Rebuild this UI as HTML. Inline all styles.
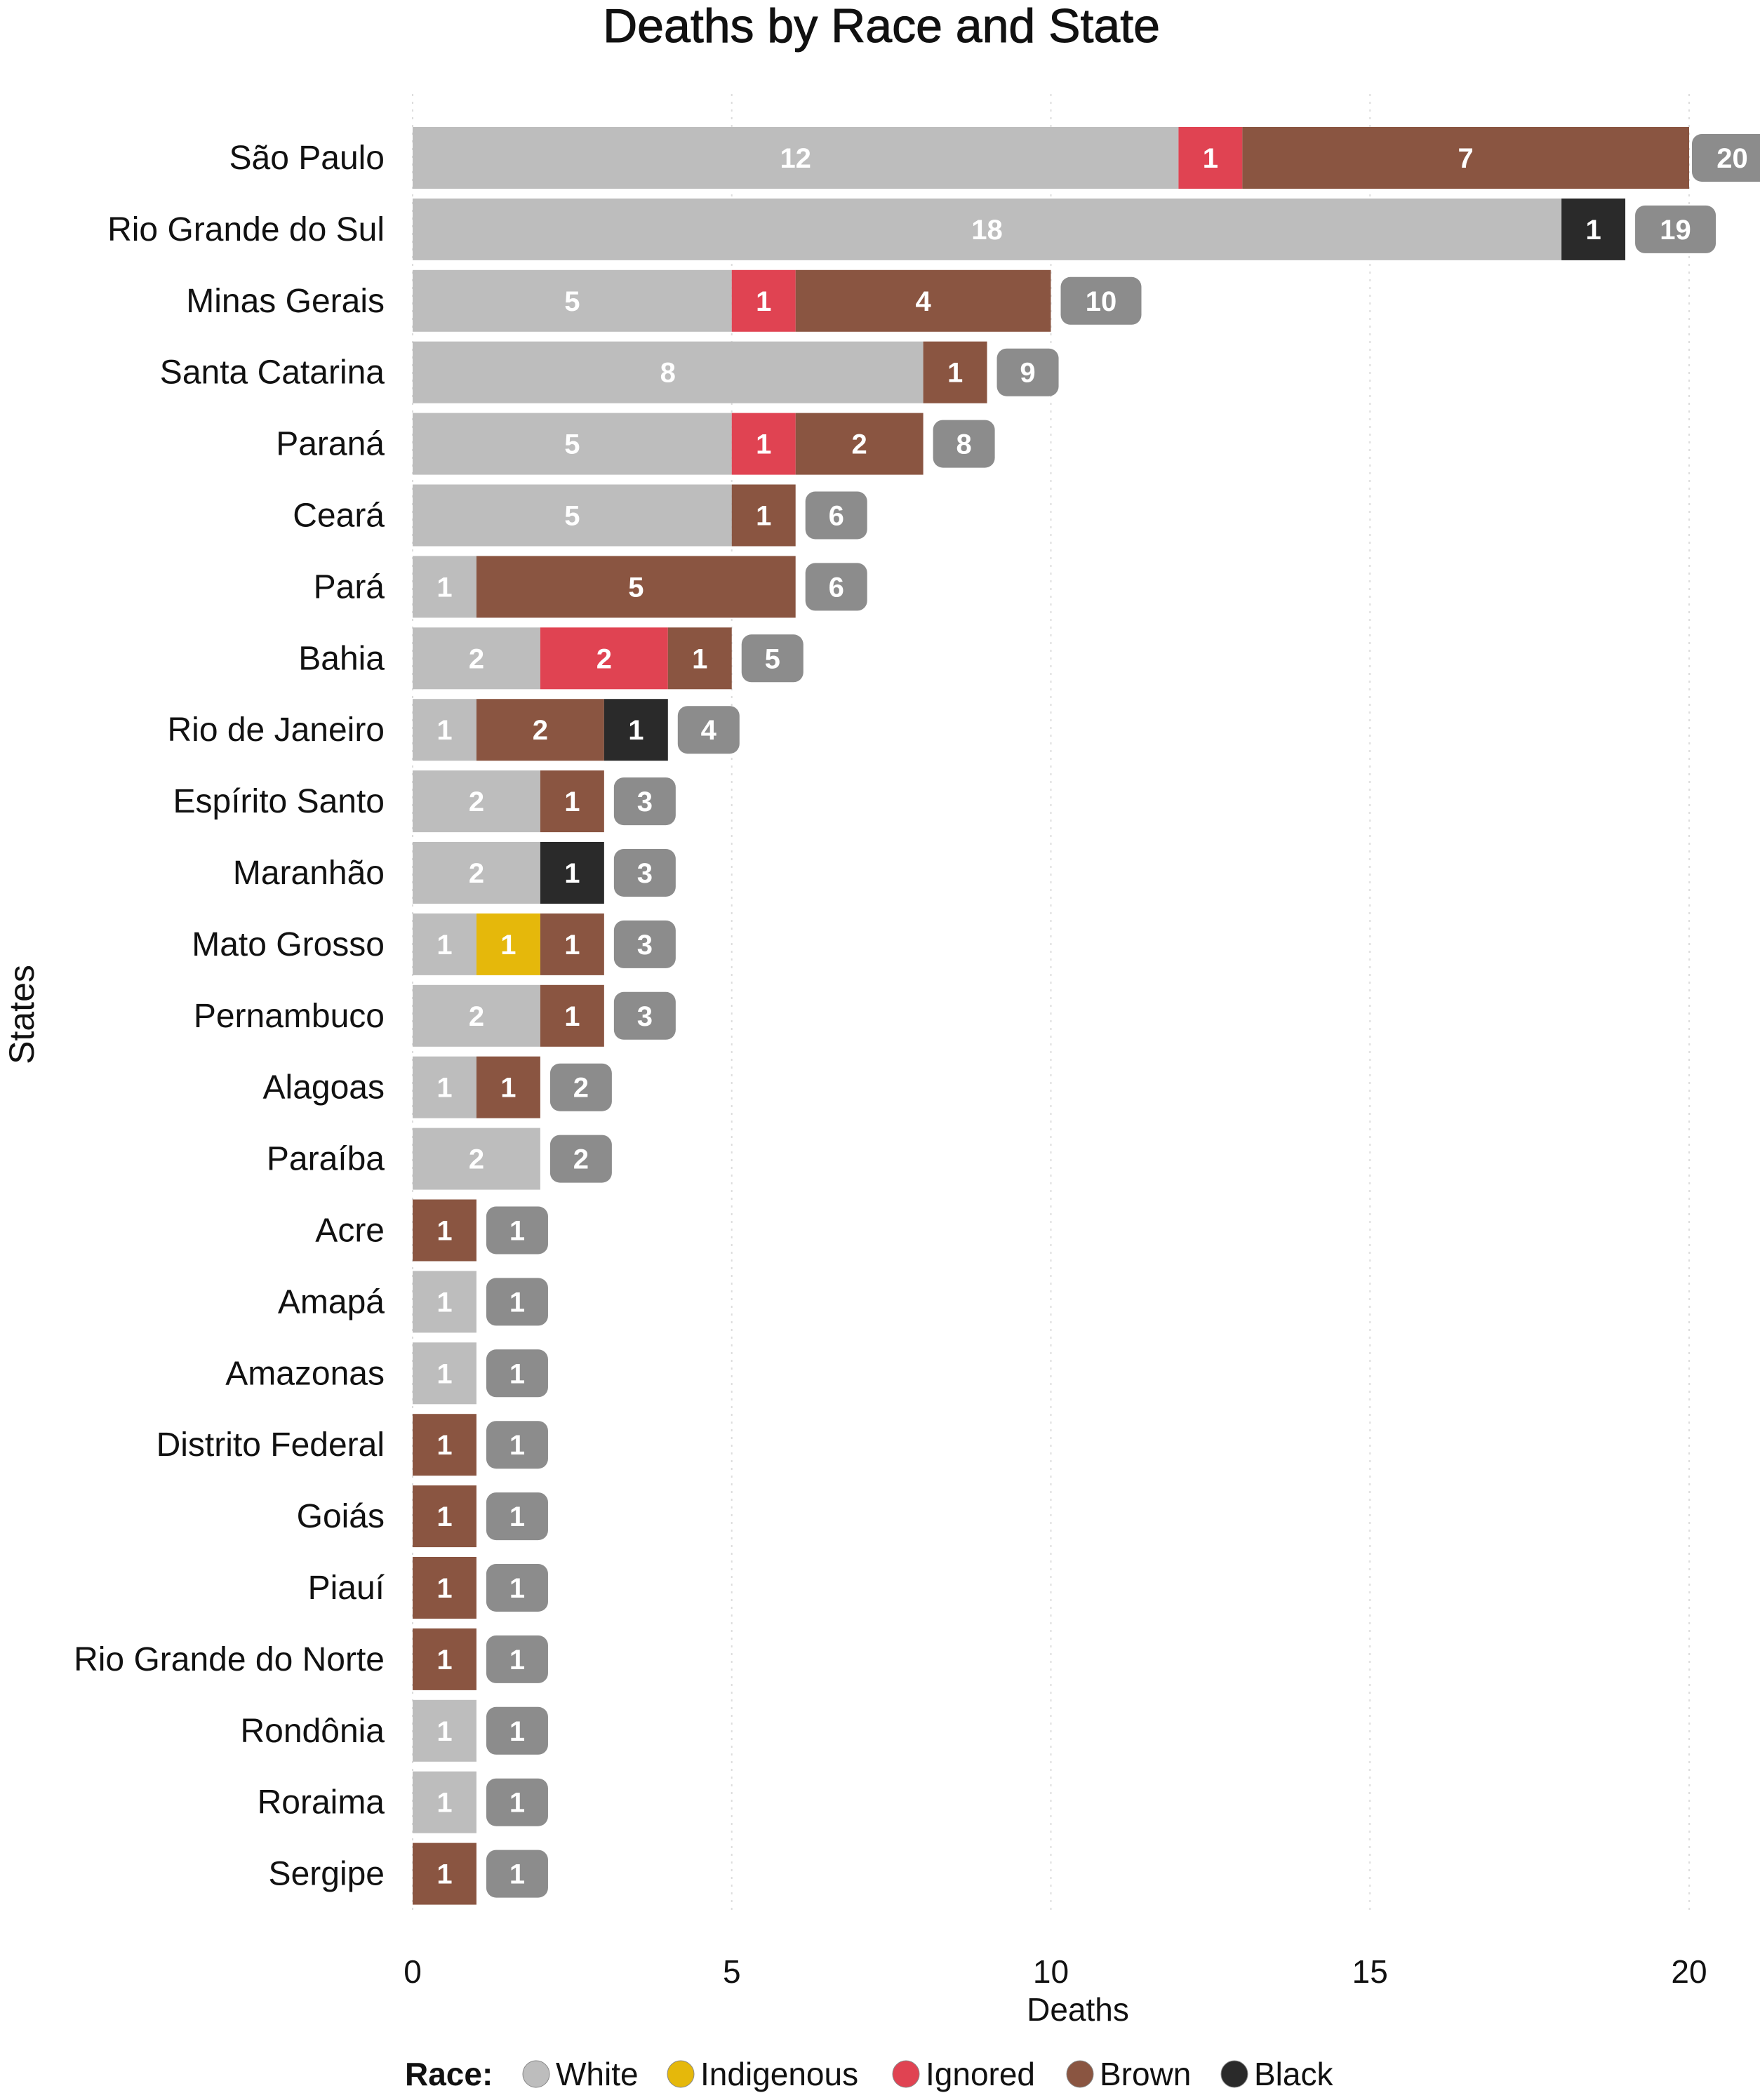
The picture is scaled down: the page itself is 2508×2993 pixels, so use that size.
<!DOCTYPE html>
<html><head><meta charset="utf-8"><style>
body{margin:0;background:#fff}
svg{display:block;font-family:"Liberation Sans",sans-serif}
</style></head><body>
<svg id="c" width="2508" height="2993" viewBox="0 0 2508 2993">
<text x="1256" y="60" text-anchor="middle" font-size="68" fill="#111" stroke="#111" stroke-width="1">Deaths by Race and State</text>
<text transform="translate(48,1446) rotate(-90)" text-anchor="middle" font-size="50" fill="#111">States</text>
<text x="1536" y="2880" text-anchor="middle" font-size="46" fill="#111">Deaths</text>
<g id="grid"></g><g id="bars"></g><g id="legend"></g>
</svg>
<script>
const states=["São Paulo","Rio Grande do Sul","Minas Gerais","Santa Catarina","Paraná","Ceará","Pará","Bahia","Rio de Janeiro","Espírito Santo","Maranhão","Mato Grosso","Pernambuco","Alagoas","Paraíba","Acre","Amapá","Amazonas","Distrito Federal","Goiás","Piauí","Rio Grande do Norte","Rondônia","Roraima","Sergipe"];
const races=["White","Indigenous","Ignored","Brown","Black"];
const white=[12,18,5,8,5,5,1,2,1,2,2,1,2,1,2,0,1,1,0,0,0,0,1,1,0];
const indigenous=[0,0,0,0,0,0,0,0,0,0,0,1,0,0,0,0,0,0,0,0,0,0,0,0,0];
const ignored=[1,0,1,0,1,0,0,2,0,0,0,0,0,0,0,0,0,0,0,0,0,0,0,0,0];
const brown=[7,0,4,1,2,1,5,1,2,1,0,1,1,1,0,1,0,0,1,1,1,1,0,0,1];
const black=[0,1,0,0,0,0,0,0,1,0,1,0,0,0,0,0,0,0,0,0,0,0,0,0,0];
const xTicks=[0,5,10,15,20];
const colors=["#bdbdbd","#e5b80b","#e04352","#8a5541","#2a2a2a"];
const series=[white,indigenous,ignored,brown,black];
const NS="http://www.w3.org/2000/svg";
const X=v=>588+v*90.95, Y=i=>225+i*101.9, BH=88;
function mk(tag,attrs,parent,txt){const e=document.createElementNS(NS,tag);for(const k in attrs)e.setAttribute(k,attrs[k]);if(txt!==undefined)e.textContent=txt;parent.appendChild(e);return e;}
const grid=document.getElementById('grid'),bars=document.getElementById('bars'),leg=document.getElementById('legend');
xTicks.forEach(t=>{
 const l=mk('line',{x1:X(t),x2:X(t),y1:134,y2:2730,stroke:'#ddd','stroke-width':2,'stroke-dasharray':'3 8'},grid);
 
 
 const tx=mk('text',{x:X(t),y:2826,'text-anchor':'middle','font-size':46,fill:'#111'},grid,String(t));
 
 
});
states.forEach((s,i)=>{
 const cy=Y(i);
 const lb=mk('text',{x:548,y:cy+16,'text-anchor':'end','font-size':48,fill:'#111'},bars,s);
 
 
 let acc=0;
 series.forEach((arr,k)=>{
  const v=arr[i]; if(!v)return;
  const r=mk('rect',{x:X(acc),y:cy-BH/2,width:X(acc+v)-X(acc),height:BH,fill:colors[k]},bars);
  
  
  const t=mk('text',{x:(X(acc)+X(acc+v))/2,y:cy+14,'text-anchor':'middle','font-size':40,'font-weight':'bold',fill:'#fff'},bars,String(v));
  
  
  acc+=v;
 });
 const w=acc>=10?115:88;
 const bx=acc>=20?X(acc)+4:X(acc)+14;
 const b=mk('rect',{x:bx,y:cy-34,width:w,height:68,rx:14,fill:'#8c8c8c'},bars);
 
 
 const bt=mk('text',{x:bx+w/2,y:cy+14,'text-anchor':'middle','font-size':40,'font-weight':'bold',fill:'#fff'},bars,String(acc));
 
 
});
const rl=mk('text',{x:577,y:2972,'font-size':46,'font-weight':'bold',fill:'#111'},leg,'Race:');


const cxs=[764,970,1291,1539,1759];
races.forEach((r,k)=>{
 const c=mk('circle',{cx:cxs[k],cy:2956,r:19,fill:colors[k],stroke:'#888','stroke-width':1},leg);
 
 
 const t=mk('text',{x:cxs[k]+28,y:2972,'font-size':46,fill:'#111'},leg,r);
 
 
});
</script>
</body></html>
